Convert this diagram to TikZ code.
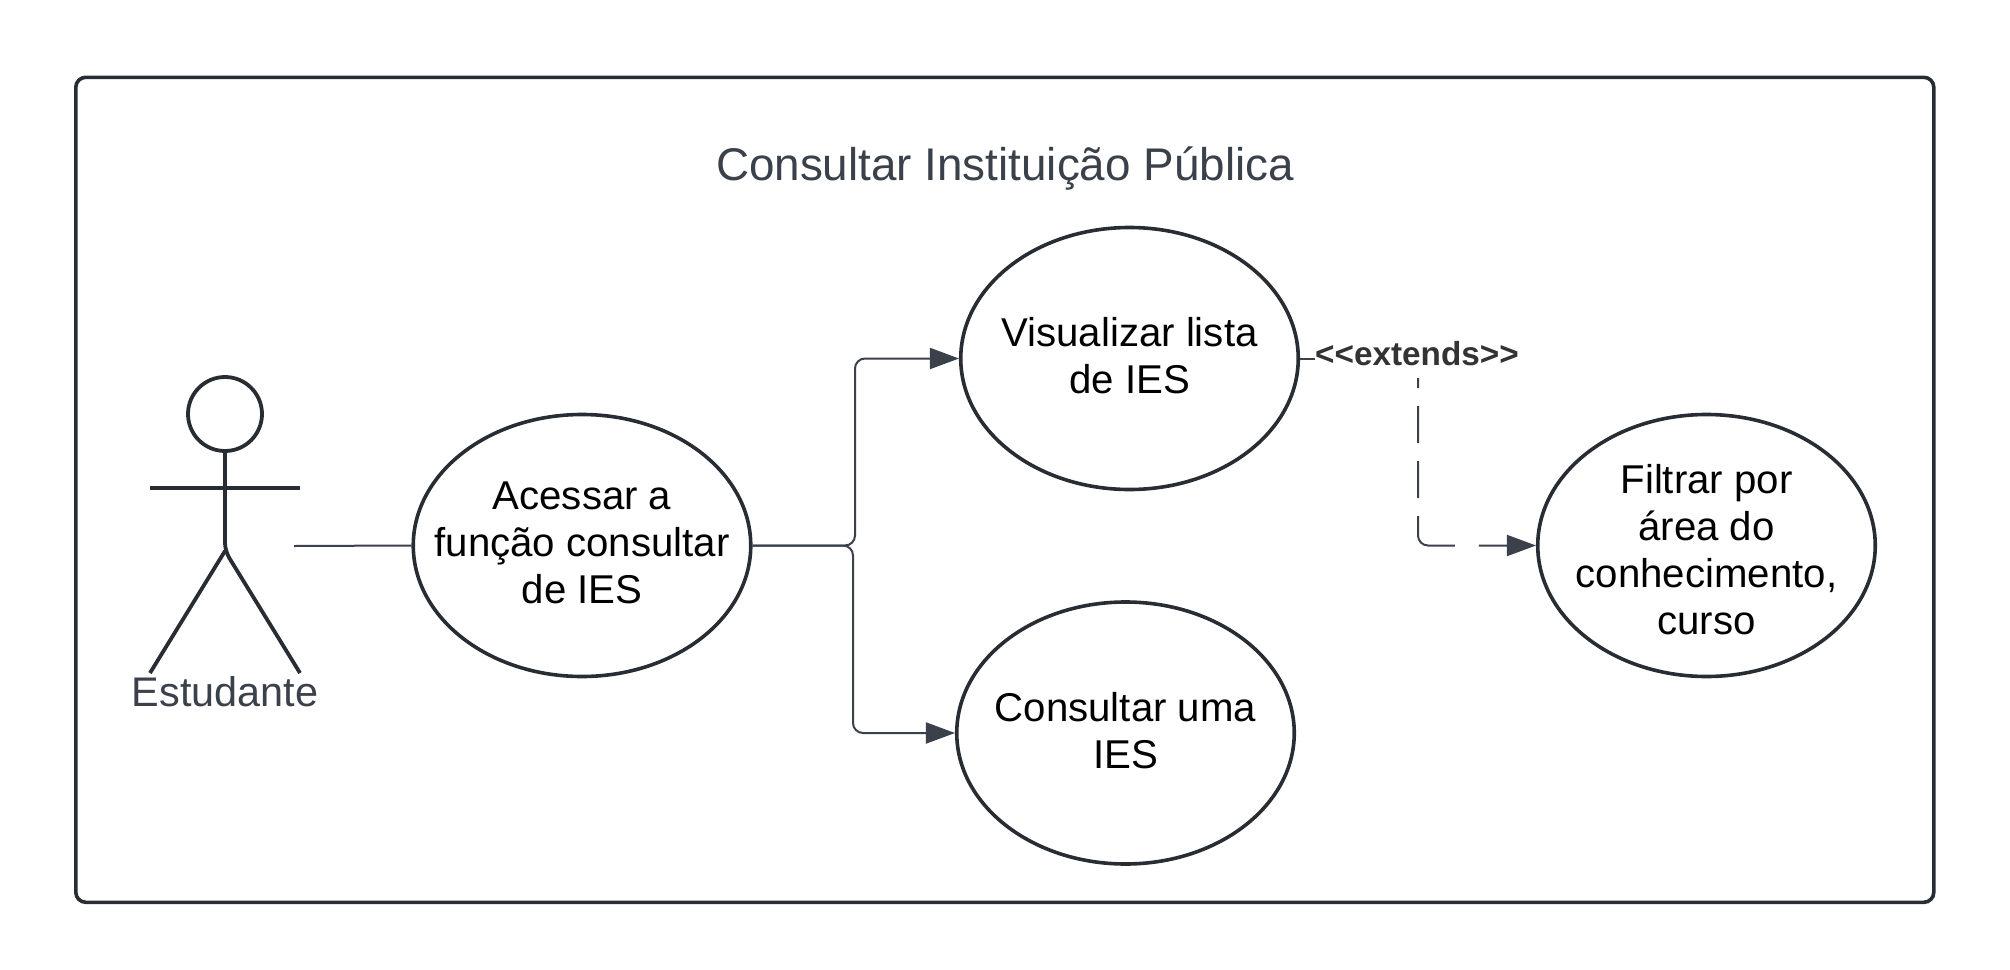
\documentclass[tikz,border=0pt]{standalone}
\usepackage{fontspec}
\setmainfont{Liberation Sans}
\usetikzlibrary{shapes.geometric,arrows.meta}
\definecolor{ink}{HTML}{282C33}
\definecolor{wire}{HTML}{3A414A}
\definecolor{lbl}{HTML}{333333}
\tikzset{
  frame/.style={draw=ink,line width=3.6pt,rounded corners=10pt},
  usecase/.style={ellipse,draw=ink,line width=3.6pt,minimum width=337.5pt,minimum height=262pt,inner sep=0pt},
  casetext/.style={align=center,text=black,inner sep=0pt,font=\fontsize{40.2}{47}\selectfont},
  stick/.style={draw=ink,line width=3.8pt},
  conn/.style={draw=wire,line width=2pt},
  tipped/.style={conn,-{Triangle[length=29pt,width=21pt,fill=wire]}},
  caption/.style={text=wire,inner sep=0pt}
}
\begin{document}
\begin{tikzpicture}[x=1pt,y=-1pt]
\useasboundingbox (0,0) rectangle (2010,969);
\node[frame,minimum width=1858pt,minimum height=825pt,anchor=north west,inner sep=0pt] (frame) at (74,75.5) {};
\node[caption,font=\fontsize{45.8}{54}\selectfont] (title) at (1005,168) {Consultar Instituição Pública};
% actor
\node[circle,draw=ink,line width=3.8pt,minimum size=74pt,inner sep=0pt] (head) at (225,414) {};
\coordinate (hip) at (225,551);
\coordinate (armL) at (150,488);
\coordinate (armR) at (300,488);
\coordinate (footL) at (150,673);
\coordinate (footR) at (300,673);
\draw[stick] (armL) -- (armR);
\draw[stick,rounded corners=8pt] (head.south) -- (hip) -- (footR);
\draw[stick] (hip) -- (footL);
\node[caption,font=\fontsize{41.4}{48}\selectfont] (actor) at (225,692) {Estudante};
% use cases
\node[usecase,label={[casetext,yshift=2.5pt]center:{Acessar a\\função consultar\\de IES}}] (a) at (582,545.5) {};
\node[usecase,label={[casetext,yshift=2.5pt]center:{Visualizar lista\\de IES}}] (v) at (1129.5,358.5) {};
\node[usecase,label={[casetext,yshift=2.5pt]center:{Consultar uma\\IES}}] (c) at (1125.5,733) {};
\node[usecase,label={[casetext,yshift=-4pt]center:{Filtrar por\\área do\\conhecimento,\\curso}}] (f) at (1706.5,545.5) {};
% connectors
\coordinate (hand) at (294,546);
\draw[conn] (hand) -- (a.west);
\coordinate (forkU) at (855,545.5);
\coordinate (forkD) at (853,545.5);
\draw[tipped,rounded corners=10pt] (a.east) -- (forkU) |- (v.west);
\draw[tipped,rounded corners=10pt] (a.east) -- (forkD) |- (c.west);
\node[text=lbl,font=\bfseries\fontsize{33.3}{40}\selectfont,inner sep=0pt] (ext) at (1417,354) {<{}<extends>{}>};
\draw[conn] (v.east) -- (ext.west |- v.east);
\coordinate (dashStart) at (1418,378);
\draw[tipped,rounded corners=10pt,dash pattern=on 10pt off 18pt on 37pt off 18pt on 37pt off 18pt on 62pt off 24pt on 30pt] (dashStart) |- (f.west);
\end{tikzpicture}
\end{document}
